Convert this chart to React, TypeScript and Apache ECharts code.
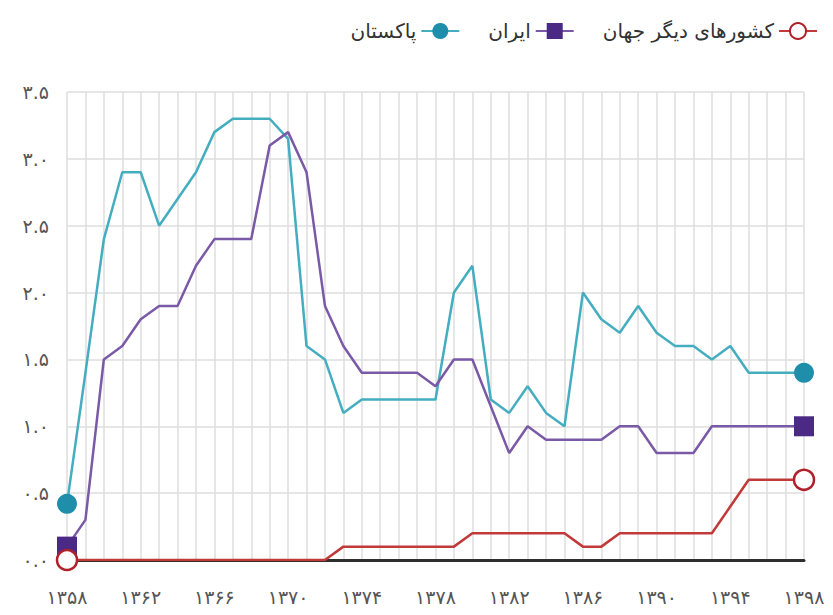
import React, { useEffect, useRef } from "react";
import * as echarts from "echarts";

const years = [
  1358, 1359, 1360, 1361, 1362, 1363, 1364, 1365, 1366, 1367, 1368, 1369, 1370, 1371,
  1372, 1373, 1374, 1375, 1376, 1377, 1378, 1379, 1380, 1381, 1382, 1383, 1384, 1385,
  1386, 1387, 1388, 1389, 1390, 1391, 1392, 1393, 1394, 1395, 1396, 1397, 1398,
];

const pakistan = [
  0.42, 1.4, 2.4, 2.9, 2.9, 2.5, 2.7, 2.9, 3.2, 3.3, 3.3, 3.3, 3.15, 1.6, 1.5, 1.1,
  1.2, 1.2, 1.2, 1.2, 1.2, 2.0, 2.2, 1.2, 1.1, 1.3, 1.1, 1.0, 2.0, 1.8, 1.7, 1.9,
  1.7, 1.6, 1.6, 1.5, 1.6, 1.4, 1.4, 1.4, 1.4,
];

const iran = [
  0.1, 0.3, 1.5, 1.6, 1.8, 1.9, 1.9, 2.2, 2.4, 2.4, 2.4, 3.1, 3.2, 2.9, 1.9, 1.6,
  1.4, 1.4, 1.4, 1.4, 1.3, 1.5, 1.5, 1.15, 0.8, 1.0, 0.9, 0.9, 0.9, 0.9, 1.0, 1.0,
  0.8, 0.8, 0.8, 1.0, 1.0, 1.0, 1.0, 1.0, 1.0,
];

const others = [
  0, 0, 0, 0, 0, 0, 0, 0, 0, 0, 0, 0, 0, 0, 0, 0.1, 0.1, 0.1, 0.1, 0.1, 0.1, 0.1,
  0.2, 0.2, 0.2, 0.2, 0.2, 0.2, 0.1, 0.1, 0.2, 0.2, 0.2, 0.2, 0.2, 0.2, 0.4, 0.6,
  0.6, 0.6, 0.6,
];

const seriesNames = ["پاکستان", "ایران", "کشورهای دیگر جهان"];

const FA_DIGITS = "۰۱۲۳۴۵۶۷۸۹";
const toFa = (s: string) => s.replace(/[0-9]/g, (d) => FA_DIGITS[Number(d)]);

const FONT = "DejaVu Sans";

export default function App() {
  const ref = useRef<HTMLDivElement>(null);

  useEffect(() => {
    if (!ref.current) return;
    const chart = echarts.init(ref.current, undefined, { renderer: "svg" });
    const last = years.length - 1;
    const endSize = (_v: any, p: any) =>
      p.dataIndex === 0 || p.dataIndex === last ? 20 : 0;

    chart.setOption({
      animation: false,
      textStyle: { fontFamily: FONT },
      legend: {
        data: seriesNames,
        right: 10,
        top: 16,
        align: "right",
        itemWidth: 38,
        itemHeight: 20,
        itemGap: 28,
        textStyle: { fontSize: 20, color: "#333", fontFamily: FONT },
      },
      grid: { left: 67, right: 29, top: 92, bottom: 55, containLabel: false },
      xAxis: {
        type: "category",
        boundaryGap: false,
        data: years.map(String),
        axisLine: { show: true, lineStyle: { color: "#2e2e2e", width: 3 } },
        axisTick: { show: false },
        axisLabel: {
          interval: 3,
          margin: 27,
          fontSize: 19,
          color: "#555",
          fontFamily: FONT,
          formatter: (v: string) => toFa(v),
        },
        splitLine: { show: true, interval: 0, lineStyle: { color: "#dedede", width: 1.5 } },
      },
      yAxis: {
        type: "value",
        min: 0,
        max: 3.5,
        interval: 0.5,
        axisLine: { show: false },
        axisTick: { show: false },
        axisLabel: {
          margin: 18,
          fontSize: 19,
          color: "#555",
          fontFamily: FONT,
          formatter: (v: number) => toFa(v.toFixed(1)),
        },
        splitLine: { show: true, lineStyle: { color: "#dedede", width: 1.5 } },
      },
      series: [
        {
          name: seriesNames[0],
          type: "line",
          data: pakistan,
          symbol: "circle",
          symbolSize: endSize,
          showAllSymbol: true,
          lineStyle: { color: "#45adc0", width: 2.5 },
          itemStyle: { color: "#1e8eab" },
          z: 2,
        },
        {
          name: seriesNames[1],
          type: "line",
          data: iran,
          symbol: "rect",
          symbolSize: endSize,
          showAllSymbol: true,
          lineStyle: { color: "#7a5aa6", width: 2.5 },
          itemStyle: { color: "#4b2a86" },
          z: 3,
        },
        {
          name: seriesNames[2],
          type: "line",
          data: others,
          symbol: "circle",
          symbolSize: endSize,
          showAllSymbol: true,
          lineStyle: { color: "#c2393a", width: 2.5 },
          itemStyle: { color: "#ffffff", borderColor: "#b0222b", borderWidth: 2.5 },
          z: 4,
        },
      ],
    });
    return () => chart.dispose();
  }, []);

  return (
    <div
      ref={ref}
      style={{ position: "fixed", left: 0, top: 0, width: 833, height: 615, background: "#fff" }}
    />
  );
}
